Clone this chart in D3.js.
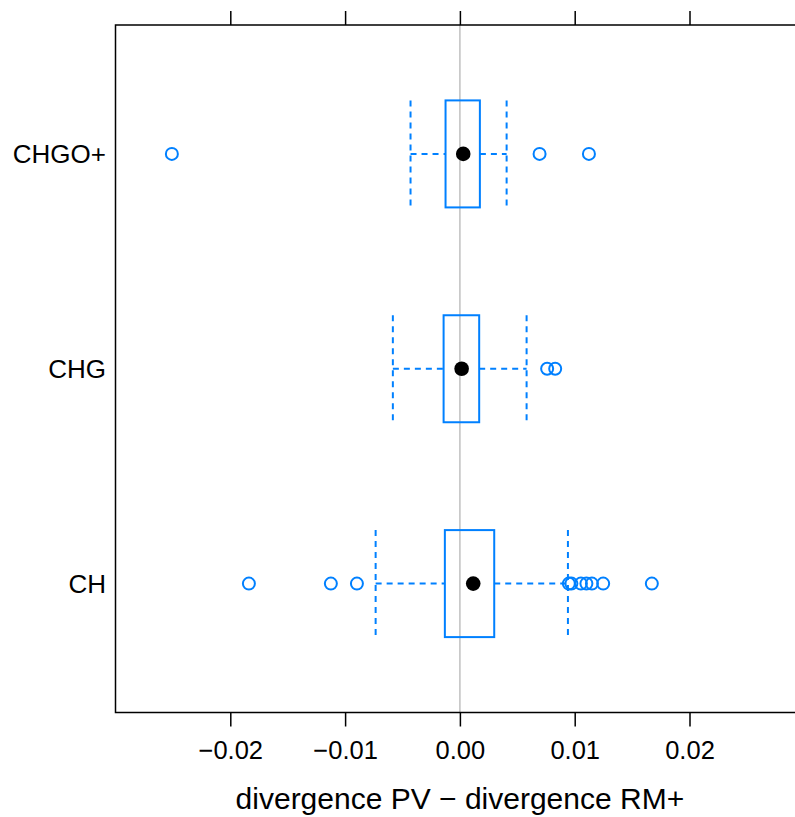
<!DOCTYPE html>
<html>
<head>
<meta charset="utf-8">
<script src="https://cdn.jsdelivr.net/npm/d3@7"></script>
<style>
  body { margin: 0; background: #fff; }
  svg { display: block; font-family: "Liberation Sans", Arial, sans-serif; }
</style>
</head>
<body>
<svg id="chart" width="795" height="817"></svg>
<script>
// box stats per group
const groups = ["CH", "CHG", "CHGO+"];
const q1 = [-0.00131, -0.00142, -0.00125];
const medians = [0.00116, 0.00015, 0.00029];
const q3 = [0.00299, 0.00168, 0.00174];
const whiskerLow = [-0.00734, -0.00584, -0.0043];
const whiskerHigh = [0.00941, 0.00581, 0.00407];
const outliers = [
    [-0.01838, -0.01124, -0.00897, 0.00949, 0.00971, 0.01054, 0.01102, 0.0115, 0.01248, 0.01672],
    [0.0076, 0.0083],
    [-0.02509, 0.00694, 0.01124]
];
const xTicks = [-0.02, -0.01, 0, 0.01, 0.02];
const xLabel = "divergence PV \u2212 divergence RM+";

const svg = d3.select("#chart");
const blue = "#0080ff";

const panelLeft = 115.5, panelRight = 804.3, panelTop = 25, panelBottom = 712.5;
const boxHalf = 53.5;

const x = d3.scaleLinear().domain([-0.03, 0.03]).range([panelLeft, panelRight]);
const y = d3.scalePoint().domain(groups).range([panelBottom, panelTop]).padding(0.6);

// zero reference line
svg.append("line")
    .attr("x1", x(0)).attr("x2", x(0))
    .attr("y1", panelTop).attr("y2", panelBottom)
    .attr("stroke", "#c0c0c0").attr("stroke-width", 1.5);

// panel frame
svg.append("rect")
    .attr("x", panelLeft).attr("y", panelTop)
    .attr("width", panelRight - panelLeft).attr("height", panelBottom - panelTop)
    .attr("fill", "none").attr("stroke", "#000").attr("stroke-width", 1.5);

// axes
const bottomAxis = svg.append("g")
    .attr("transform", `translate(0,${panelBottom})`)
    .call(d3.axisBottom(x).tickValues(xTicks).tickFormat(d3.format(".2f"))
        .tickSize(14).tickSizeOuter(0));
bottomAxis.select(".domain").remove();
bottomAxis.selectAll("line").attr("stroke-width", 1.5);
bottomAxis.selectAll("text")
    .attr("y", 46.5).attr("dy", 0)
    .attr("font-size", 25.5).attr("font-family", "Liberation Sans, Arial, sans-serif")
    .attr("fill", "#000");

const topAxis = svg.append("g")
    .attr("transform", `translate(0,${panelTop})`)
    .call(d3.axisTop(x).tickValues(xTicks).tickFormat("").tickSize(14).tickSizeOuter(0));
topAxis.select(".domain").remove();
topAxis.selectAll("line").attr("stroke-width", 1.5);

// group labels
svg.selectAll(".glab").data(groups).join("text")
    .attr("class", "glab")
    .attr("x", 106)
    .attr("y", d => y(d) + 9)
    .attr("text-anchor", "end")
    .attr("font-size", 26)
    .text(d => d);

svg.append("text")
    .attr("x", (panelLeft + panelRight) / 2)
    .attr("y", 809)
    .attr("text-anchor", "middle")
    .attr("font-size", 30)
    .text(xLabel);

// boxes
groups.forEach(function(g, i) {
    const cy = y(g);
    const layer = svg.append("g");
    const dash = "6,5";

    // whiskers
    layer.append("line")
        .attr("x1", x(whiskerLow[i])).attr("x2", x(q1[i]))
        .attr("y1", cy).attr("y2", cy);
    layer.append("line")
        .attr("x1", x(q3[i])).attr("x2", x(whiskerHigh[i]))
        .attr("y1", cy).attr("y2", cy);
    [whiskerLow[i], whiskerHigh[i]].forEach(function(v) {
        layer.append("line")
            .attr("x1", x(v)).attr("x2", x(v))
            .attr("y1", cy - boxHalf).attr("y2", cy + boxHalf);
    });
    layer.selectAll("line")
        .attr("stroke", blue).attr("stroke-width", 2).attr("stroke-dasharray", dash);

    layer.append("rect")
        .attr("x", x(q1[i])).attr("y", cy - boxHalf)
        .attr("width", x(q3[i]) - x(q1[i])).attr("height", 2 * boxHalf)
        .attr("fill", "none").attr("stroke", blue).attr("stroke-width", 2);

    layer.selectAll(".out").data(outliers[i]).join("circle")
        .attr("class", "out")
        .attr("cx", d => x(d)).attr("cy", cy).attr("r", 6)
        .attr("fill", "none").attr("stroke", blue).attr("stroke-width", 2);

    layer.append("circle")
        .attr("cx", x(medians[i])).attr("cy", cy).attr("r", 7.3)
        .attr("fill", "#000");
});
</script>
</body>
</html>
